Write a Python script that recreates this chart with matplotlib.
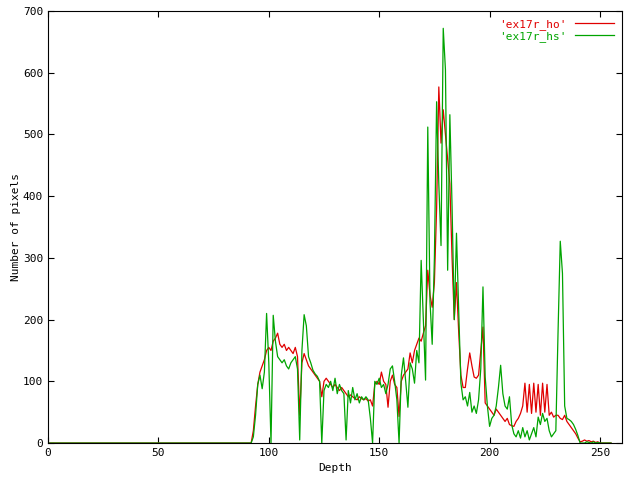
import numpy as np
import matplotlib
matplotlib.use('Agg')
import matplotlib.pyplot as plt

# depth values 0..255, histogram counts
depth = np.arange(256)

# 'ex17r_ho' (red), nonzero from depth 92 onwards
ho_tail = [
    0, 20, 60, 95, 115, 125, 135, 150, 155, 150,          # 92-101
    165, 170, 178, 160, 155, 160, 150, 155, 150, 145,     # 102-111
    155, 140, 45, 130, 145, 135, 125, 120, 115, 110,      # 112-121
    105, 100, 75, 100, 105, 100, 95, 90, 95, 90,          # 122-131
    85, 90, 85, 80, 75, 78, 75, 72, 70, 75,               # 132-141
    72, 70, 72, 68, 70, 60, 95, 100, 95, 115,             # 142-151
    100, 95, 58, 100, 110, 95, 90, 43, 100, 110,          # 152-161
    115, 120, 146, 130, 150, 160, 170, 165, 178, 190,     # 162-171
    280, 240, 220, 260, 380, 577, 486, 540, 500, 460,     # 172-181
    420, 300, 200, 260, 180, 110, 90, 90, 120, 146,       # 182-191
    125, 107, 105, 110, 150, 188, 65, 60, 55, 50,         # 192-201
    45, 55, 50, 45, 40, 35, 40, 30, 28, 27,               # 202-211
    35, 40, 48, 60, 97, 50, 95, 48, 97, 50,               # 212-221
    95, 45, 97, 50, 95, 45, 50, 42, 45, 45,               # 222-231
    40, 38, 45, 35, 30, 25, 20, 15, 8, 2,                 # 232-241
    3, 5, 3, 4, 2, 3, 1, 2, 0, 0,                         # 242-251
    0, 0, 0, 0,                                           # 252-255
]

# 'ex17r_hs' (green)
hs_tail = [
    0, 10, 45, 95, 110, 88, 115, 210, 130, 0,             # 92-101
    207, 165, 140, 135, 130, 135, 125, 120, 130, 135,     # 102-111
    140, 120, 5, 150, 208, 190, 140, 130, 118, 112,       # 112-121
    108, 100, 0, 85, 95, 90, 100, 85, 105, 80,            # 122-131
    95, 85, 80, 5, 85, 65, 90, 70, 80, 65,                # 132-141
    75, 70, 75, 70, 40, 0, 100, 95, 105, 90,              # 142-151
    95, 80, 95, 120, 125, 100, 70, 0, 110, 138,           # 152-161
    100, 58, 130, 120, 97, 150, 130, 296, 200, 102,       # 162-171
    512, 230, 160, 300, 553, 420, 320, 672, 605, 280,     # 172-181
    532, 383, 200, 340, 215, 97, 70, 75, 60, 82,          # 182-191
    50, 60, 48, 70, 120, 253, 107, 60, 27, 40,            # 192-201
    45, 60, 90, 126, 80, 60, 55, 75, 30, 15,              # 202-211
    10, 20, 8, 25, 10, 20, 5, 15, 25, 10,                 # 212-221
    42, 30, 48, 35, 40, 20, 10, 15, 20, 180,              # 222-231
    327, 275, 60, 40, 38, 35, 30, 22, 12, 0,              # 232-241
    0, 0, 2, 1, 0, 2, 0, 1, 0, 0,                         # 242-251
    0, 0, 0, 0,                                           # 252-255
]

ex17r_ho = [0] * 92 + ho_tail
ex17r_hs = [0] * 92 + hs_tail

plt.rcParams['font.family'] = ['DejaVu Sans Mono']
plt.rcParams['font.size'] = 8

fig = plt.figure(figsize=(6.4, 4.8), dpi=100)
ax = fig.add_axes([0.075, 0.077, 0.897, 0.9])

ax.plot(depth, ex17r_ho, color='#e00000', lw=0.9, label="'ex17r_ho'")
ax.plot(depth, ex17r_hs, color='#00a400', lw=0.9, label="'ex17r_hs'")

ax.set_xlim(0, 260)
ax.set_ylim(0, 700)
ax.set_xticks(range(0, 251, 50))
ax.set_yticks(range(0, 701, 100))
ax.tick_params(direction='in', length=4, top=True, right=True, width=0.8)
for s in ax.spines.values():
    s.set_linewidth(0.8)

ax.set_xlabel('Depth')
ax.set_ylabel('Number of pixels', labelpad=1)

leg = ax.legend(loc='upper right', frameon=False, markerfirst=False,
                handlelength=3.5, labelspacing=0.1, borderaxespad=0.3,
                labelcolor='linecolor')

plt.savefig('out.png', dpi=100)
